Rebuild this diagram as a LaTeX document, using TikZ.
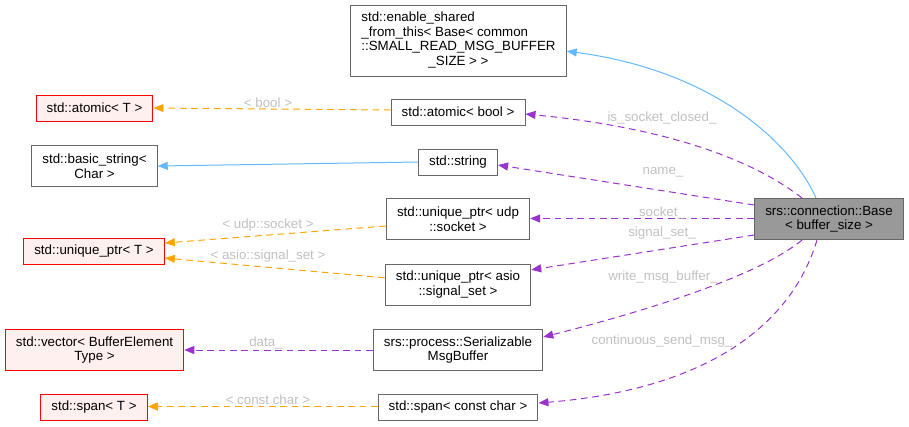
\documentclass[tikz,border=0pt]{standalone}
\usepackage{fontspec}
\setmainfont{Liberation Sans}
\usepackage{tikz}
\usetikzlibrary{arrows.meta}
\definecolor{edgeblue}{HTML}{63B8FF}
\definecolor{edgepurple}{HTML}{9A32CD}
\definecolor{edgeorange}{HTML}{FFA500}
\definecolor{lblgray}{HTML}{C0C0C0}
\definecolor{boxgray}{HTML}{666666}
\definecolor{redfill}{HTML}{FFF0F0}
\definecolor{basefill}{HTML}{999999}

\begin{document}
\begin{tikzpicture}[x=0.75pt,y=-0.75pt,
  every node/.style={font=\fontsize{10}{11}\selectfont},
  cls/.style={draw=boxgray,fill=white,line width=0.75pt,inner xsep=8pt,inner ysep=1pt,align=center,minimum height=19.5pt},
  twoline/.style={minimum height=30.75pt},
  tmpl/.style={cls,draw=red},
  lbl/.style={text=lblgray,inner sep=0pt},
  >={Triangle[length=7.5pt,width=6pt]},
  inherit/.style={->,draw=edgeblue,line width=0.75pt},
  usage/.style={->,draw=edgepurple,line width=0.75pt,dash pattern=on 5pt off 3.5pt},
  templ/.style={->,draw=edgeorange,line width=0.75pt,dash pattern=on 5pt off 3.5pt}]
\useasboundingbox (0,0) rectangle (909,426);
%\draw[help lines] (0,0) grid[step=50] (909,426);
\node[cls,minimum height=53.25pt] (enable) at (458.5,40.5) {\begin{tabular}{@{}l@{}}std::enable\_shared\\\_from\_this< Base< common\\::SMALL\_READ\_MSG\_BUFFER\\\multicolumn{1}{@{}c@{}}{\_SIZE > >}\end{tabular}};
\node[tmpl,fill=redfill] (atomT) at (94.5,108) {std::atomic< T >};
\node[cls] (atomB) at (458,112) {std::atomic< bool >};
\node[cls,twoline] (bstr) at (94.5,166) {std::basic\_string<\\Char >};
\node[cls] (str) at (458,162) {std::string};
\node[cls,twoline,fill=basefill] (base) at (829,219) {srs::connection::Base\\< buffer\_size >};
\node[tmpl,fill=redfill] (uptrT) at (94,251) {std::unique\_ptr< T >};
\node[cls,twoline] (uptrU) at (458,219) {std::unique\_ptr< udp\\::socket >};
\node[cls,twoline] (uptrA) at (458,284.5) {std::unique\_ptr< asio\\::signal\_set >};
\node[tmpl,twoline,fill=redfill] (vec) at (94.5,350) {std::vector< BufferElement\\Type >};
\node[cls,twoline] (msgbuf) at (458,350) {srs::process::Serializable\\MsgBuffer};
\node[tmpl,fill=redfill] (spanT) at (94,407) {std::span< T >};
\node[cls] (spanC) at (458,407) {std::span< const char >};

\draw[inherit] ([xshift=-9.75pt]base.north) .. controls (790,140) and (710,70) .. ([yshift=-8pt]enable.east);
\draw[usage] ([xshift=-20.25pt]base.north) .. controls (740,150) and (640,125) .. ([yshift=-1.5pt]atomB.east);
\draw[usage] ([yshift=10.5pt]base.west) -- ([yshift=-2.25pt]str.east);
\draw[usage] ([yshift=0.375pt]base.west) -- ([yshift=0.375pt]uptrU.east);
\draw[usage] ([yshift=-12pt]base.west) -- ([yshift=11pt]uptrA.east);
\draw[usage] ([xshift=-20.25pt]base.south) .. controls (760,275) and (650,310) .. ([yshift=9.75pt]msgbuf.east);
\draw[usage] ([xshift=-9pt]base.south) .. controls (790,330) and (700,390) .. ([yshift=3pt]spanC.east);
\draw[templ] ([yshift=1.5pt]atomB.west) -- (atomT.east);
\draw[inherit] (str.west) -- (bstr.east);
\draw[templ] ([yshift=-5.25pt]uptrU.west) -- ([yshift=6pt]uptrT.east);
\draw[templ] ([yshift=5pt]uptrA.west) -- ([yshift=-5.25pt]uptrT.east);
\draw[usage] (msgbuf.west) -- (vec.east);
\draw[templ] ([yshift=0.375pt]spanC.west) -- ([yshift=0.375pt]spanT.east);

\node[lbl] (lbool) at (268,103) {< bool >};
\node[lbl] (ludp) at (268,225) {< udp::socket >};
\node[lbl] (lasio) at (268,256) {< asio::signal\_set >};
\node[lbl] (ldata) at (266,343) {data\_};
\node[lbl] (lconst) at (268,400) {< const char >};
\node[lbl] (lclosed) at (662,118) {is\_socket\_closed\_};
\node[lbl] (lname) at (663,172) {name\_};
\node[lbl] (lsocket) at (662,213) {socket\_};
\node[lbl] (lsignal) at (662,233) {signal\_set\_};
\node[lbl] (lwrite) at (663,277) {write\_msg\_buffer\_};
\node[lbl] (lcont) at (662,341) {continuous\_send\_msg\_};
\end{tikzpicture}
\end{document}
